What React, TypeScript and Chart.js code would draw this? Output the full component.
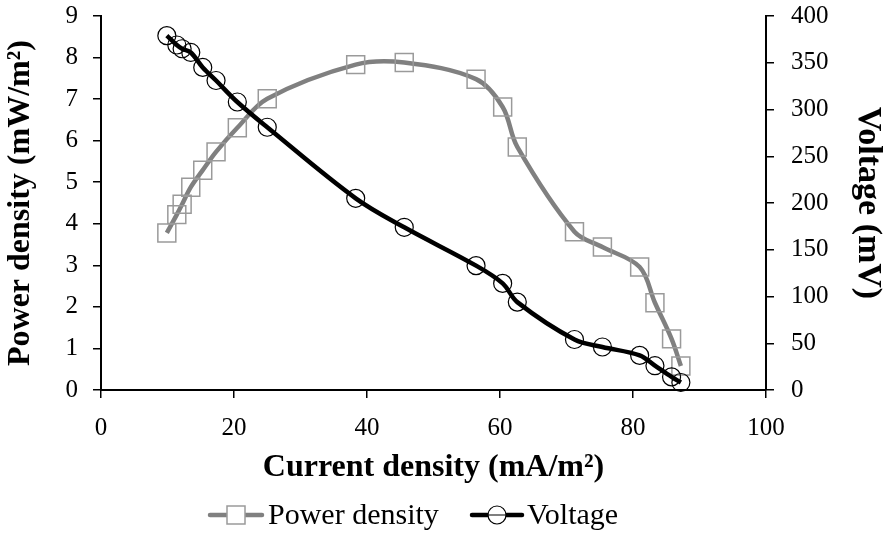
import React, { useEffect, useRef } from 'react';
import { Chart, registerables } from 'chart.js';

Chart.register(...registerables);

// Data
const currentDensity = [9.9, 11.4, 12.2, 13.5, 15.3, 17.3, 20.5, 25.0, 38.3, 45.6, 56.4, 60.4, 62.6, 71.2, 75.4, 81.0, 83.3, 85.8, 87.2];
const powerDensity = [3.78, 4.22, 4.47, 4.88, 5.29, 5.73, 6.31, 7.01, 7.83, 7.88, 7.48, 6.81, 5.85, 3.81, 3.44, 2.96, 2.10, 1.23, 0.58];
const voltage = [379, 369, 365, 361, 345, 331, 308, 281, 205, 174, 133, 114, 94, 54, 46, 37, 26, 14, 8];

const xTitle = 'Current density (mA/m²)';
const yTitle = 'Power density (mW/m²)';
const y1Title = 'Voltage (mV)';
const seriesNames = ['Power density', 'Voltage'];

const FONT = "'Liberation Serif', 'Times New Roman', serif";
const GRAY = '#808080';
const GRAY_MARK = '#9a9a9a';

const legendPlugin = {
  id: 'customLegend',
  afterDraw(chart: any) {
    const ctx = chart.ctx as CanvasRenderingContext2D;
    const y = 515;
    ctx.save();
    ctx.font = `30px ${FONT}`;
    ctx.textBaseline = 'middle';
    ctx.textAlign = 'left';
    // item 1
    ctx.lineCap = 'round';
    ctx.strokeStyle = GRAY;
    ctx.lineWidth = 4.5;
    ctx.beginPath();
    ctx.moveTo(210, y);
    ctx.lineTo(262, y);
    ctx.stroke();
    ctx.fillStyle = '#fff';
    ctx.fillRect(227, y - 9, 18, 18);
    ctx.strokeStyle = GRAY_MARK;
    ctx.lineWidth = 1.5;
    ctx.strokeRect(227, y - 9, 18, 18);
    ctx.fillStyle = '#000';
    ctx.fillText(seriesNames[0], 268, y + 1);
    // item 2
    ctx.strokeStyle = '#000';
    ctx.lineWidth = 4.5;
    ctx.beginPath();
    ctx.moveTo(472, y);
    ctx.lineTo(522, y);
    ctx.stroke();
    ctx.lineWidth = 1.2;
    ctx.fillStyle = '#fff';
    ctx.beginPath();
    ctx.arc(497, y, 9, 0, Math.PI * 2);
    ctx.fill();
    ctx.stroke();
    ctx.beginPath();
    ctx.lineWidth = 1.2;
    ctx.moveTo(488, y);
    ctx.lineTo(506, y);
    ctx.stroke();
    ctx.fillStyle = '#000';
    ctx.fillText(seriesNames[1], 527, y + 1);
    ctx.restore();
  },
};

export default function App() {
  const ref = useRef<HTMLCanvasElement | null>(null);

  useEffect(() => {
    if (!ref.current) return;
    const tickFont = { family: FONT, size: 25 };
    const titleFont = { family: FONT, size: 32, weight: 'bold' as const };
    const chart = new Chart(ref.current, {
      type: 'line',
      data: {
        datasets: [
          {
            label: seriesNames[0],
            data: currentDensity.map((x, i) => ({ x, y: powerDensity[i] })),
            yAxisID: 'y',
            borderColor: GRAY,
            borderWidth: 4.5,
            tension: 0.35,
            pointStyle: 'rect',
            pointRadius: 12.7,
            pointBorderColor: GRAY_MARK,
            pointBorderWidth: 1.5,
            pointBackgroundColor: 'rgba(0,0,0,0)',
            fill: false,
            order: 1,
          },
          {
            label: seriesNames[1],
            data: currentDensity.map((x, i) => ({ x, y: voltage[i] })),
            yAxisID: 'y1',
            borderColor: '#000',
            borderWidth: 4.5,
            tension: 0.35,
            pointStyle: 'circle',
            pointRadius: 9,
            pointBorderColor: '#000',
            pointBorderWidth: 1.2,
            pointBackgroundColor: 'rgba(0,0,0,0)',
            fill: false,
            order: 0,
          },
        ],
      },
      options: {
        responsive: false,
        animation: false,
        clip: false as any,
        layout: { padding: { top: 16, bottom: 46, left: 0, right: 0 } },
        plugins: { legend: { display: false }, tooltip: { enabled: false } },
        scales: {
          x: {
            type: 'linear',
            min: 0,
            max: 100,
            ticks: { stepSize: 20, color: '#000', font: tickFont, padding: 15, maxRotation: 0 },
            grid: { display: true, drawOnChartArea: false, drawTicks: true, tickLength: 8, color: '#000', lineWidth: 1.5 },
            border: { display: true, color: '#000', width: 2 },
            title: { display: true, text: xTitle, color: '#000', font: titleFont, padding: { top: 0, bottom: 3 } },
            afterFit: (s: any) => { s.height = 100; s.paddingLeft = 0; s.paddingRight = 0; },
          },
          y: {
            type: 'linear',
            position: 'left',
            min: 0,
            max: 9,
            ticks: { stepSize: 1, color: '#000', font: tickFont, padding: 15 },
            grid: { display: true, drawOnChartArea: false, drawTicks: true, tickLength: 8, color: '#000', lineWidth: 1.5 },
            border: { display: true, color: '#000', width: 2 },
            title: { display: true, text: yTitle, color: '#000', font: titleFont, padding: { top: 2, bottom: 0 } },
            afterFit: (s: any) => { s.width = 101; s.paddingTop = 0; s.paddingBottom = 0; },
          },
          y1: {
            type: 'linear',
            position: 'right',
            min: 0,
            max: 400,
            ticks: { stepSize: 50, color: '#000', font: tickFont, padding: 17 },
            grid: { display: true, drawOnChartArea: false, drawTicks: true, tickLength: 8, color: '#000', lineWidth: 1.5 },
            border: { display: true, color: '#000', width: 2 },
            title: { display: true, text: y1Title, color: '#000', font: { family: FONT, size: 34, weight: 'bold' as const }, padding: { top: 1, bottom: 0 } },
            afterFit: (s: any) => { s.width = 123; s.paddingTop = 0; s.paddingBottom = 0; },
          },
        },
      },
      plugins: [legendPlugin],
    });
    return () => chart.destroy();
  }, []);

  return (
    <div style={{ position: 'absolute', left: 0, top: 0, width: 889, height: 536, background: '#fff' }}>
      <canvas ref={ref} width={889} height={536} style={{ display: 'block' }} />
    </div>
  );
}
